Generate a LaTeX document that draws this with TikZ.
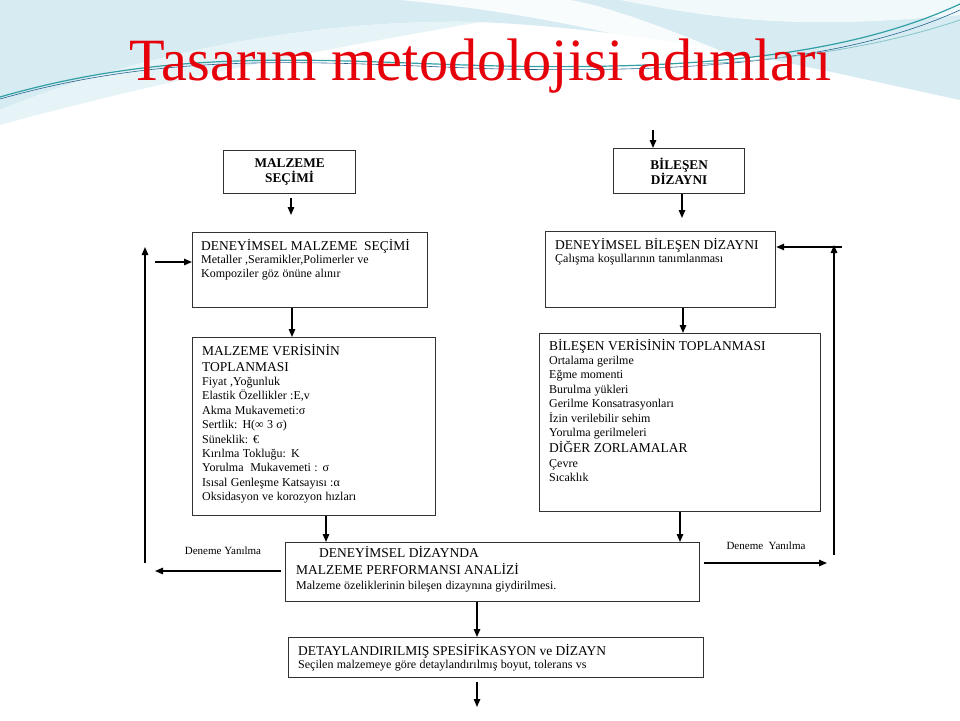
\documentclass[tikz,border=0pt]{standalone}
\usepackage{fontspec}
\usepackage{graphicx}
\setmainfont{Liberation Serif}
\usetikzlibrary{arrows.meta,calc}
\definecolor{boxc}{RGB}{50,50,50}
\definecolor{titlered}{RGB}{230,0,10}
\definecolor{bgA}{RGB}{214,235,242}
\definecolor{bgB}{RGB}{230,243,247}
\definecolor{tealc}{RGB}{50,160,165}
\definecolor{tealb}{RGB}{40,100,145}
\newcommand{\hd}{\fontsize{13.5}{16}\selectfont}
\newcommand{\sm}{\fontsize{12}{14.4}\selectfont}
\begin{document}
\begin{tikzpicture}[x=1pt,y=-1pt,
  box/.style={draw=boxc, line width=1.2pt, fill=white, inner sep=0pt, anchor=north west},
  arr/.style={line width=1.4pt, -{Triangle[length=8pt,width=6.5pt]}},
  txt/.style={anchor=base west, inner sep=0pt, align=left, text width=#1},
  lab/.style={inner sep=2pt, fill=white, font=\fontsize{11}{13}\selectfont}]
\useasboundingbox (0,0) rectangle (960,720);
\fill[white] (0,0) rectangle (960,720);
% background swooshes
\fill[bgA] (0,0) -- (960,0) -- (960,100) .. controls (820,70) and (660,30) .. (480,22)
  .. controls (300,18) and (120,60) .. (0,110) -- cycle;
\fill[bgB] (0,110) .. controls (120,60) and (300,18) .. (480,22)
  .. controls (380,40) and (200,70) .. (0,125) -- cycle;
\fill[white, opacity=0.85] (400,0) .. controls (560,15) and (690,50) .. (800,85)
  .. controls (710,45) and (620,8) .. (570,0) -- cycle;
\fill[white, opacity=0.7] (620,0) .. controls (720,20) and (800,30) .. (960,15) -- (960,0) -- cycle;
\draw[tealc, line width=1.2pt] (0,97) .. controls (180,45) and (330,62) .. (500,66)
  .. controls (700,70) and (850,55) .. (960,4);
\draw[tealb, line width=0.6pt] (0,99) .. controls (180,48) and (330,64) .. (500,69)
  .. controls (700,73) and (850,60) .. (960,10);
\draw[tealc!60, line width=0.8pt] (700,64) .. controls (820,58) and (900,40) .. (960,20);

% title
\node (title) [text=titlered, anchor=base, inner sep=0pt] at (481,80)
  {\fontsize{60}{60}\selectfont\scalebox{0.972}[1]{Tasarım metodolojisi adımları}};

% boxes
\node[box, minimum width=132pt, minimum height=43pt] (b1) at (223,150) {};
\node[box, minimum width=131pt, minimum height=45pt] (b2) at (613,148) {};
\node[box, minimum width=235pt, minimum height=75pt] (b3) at (192,232) {};
\node[box, minimum width=230pt, minimum height=76pt] (b4) at (545,231) {};
\node[box, minimum width=243pt, minimum height=178pt] (b5) at (192,337) {};
\node[box, minimum width=281pt, minimum height=178pt] (b6) at (539,333) {};
\node[box, minimum width=414pt, minimum height=59pt] (b7) at (285,542) {};
\node[box, minimum width=415pt, minimum height=40pt] (b8) at (288,637) {};

% box texts
\node[inner sep=0pt, align=center, font=\bfseries\fontsize{13.3}{15.5}\selectfont] (t1) at (b1.center) {MALZEME\\SEÇİMİ};
\node[inner sep=0pt, align=center, font=\bfseries\fontsize{13.3}{15.5}\selectfont] (t2) at (b2.center) {BİLEŞEN\\DİZAYNI};

\node[txt=230pt] (t3) at (201,250) {\hd DENEYİMSEL MALZEME\ \ SEÇİMİ\par
  \fontsize{12}{13.5}\selectfont Metaller ,Seramikler,Polimerler ve\par Kompoziler göz önüne alınır\par};
\node[txt=225pt] (t4) at (555,249) {\hd DENEYİMSEL BİLEŞEN DİZAYNI\par
  \fontsize{12}{13.5}\selectfont Çalışma koşullarının tanımlanması\par};
\node[txt=235pt] (t5) at (202,355) {\hd MALZEME VERİSİNİN\par TOPLANMASI\par
  \sm Fiyat ,Yoğunluk\par Elastik Özellikler :E,v\par Akma Mukavemeti:σ\par
  Sertlik: H(∞ 3 σ)\par Süneklik: €\par Kırılma Tokluğu: K\par
  Yorulma\ \ Mukavemeti : σ\par Isısal Genleşme Katsayısı :α\par Oksidasyon ve korozyon hızları\par};
\node[txt=270pt] (t6) at (549,350) {\hd BİLEŞEN VERİSİNİN TOPLANMASI\par
  \sm Ortalama gerilme\par Eğme momenti\par Burulma yükleri\par Gerilme Konsatrasyonları\par
  İzin verilebilir sehim\par Yorulma gerilmeleri\par
  \fontsize{13.5}{16.5}\selectfont DİĞER ZORLAMALAR\par
  \fontsize{12}{14.5}\selectfont Çevre\par Sıcaklık\par};
\node[txt=400pt] (t7) at (296,557) {\fontsize{13.5}{17}\selectfont \hspace*{23pt}DENEYİMSEL DİZAYNDA\par
  MALZEME PERFORMANSI ANALİZİ\par
  \fontsize{12}{15}\selectfont Malzeme özeliklerinin bileşen dizaynına giydirilmesi.\par};
\node[txt=400pt] (t8) at (298,655) {\hd DETAYLANDIRILMIŞ SPESİFİKASYON ve DİZAYN\par
  \fontsize{12}{13}\selectfont Seçilen malzemeye göre detaylandırılmış boyut, tolerans vs\par};

% labels
\node[lab] (d1) at (223,551) {Deneme Yanılma};
\node[lab] (d2) at (766,546) {Deneme\ \ Yanılma};

% connectors
\coordinate (top) at (653,130);
\draw[arr] (top) -- (top |- b2.north);
\coordinate (x1) at (291,0);
\draw[arr, shorten <=4pt, shorten >=17pt] (x1 |- b1.south) -- (x1 |- b3.north);
\coordinate (x2) at (682,0);
\draw[arr, shorten >=13pt] (x2 |- b2.south) -- (x2 |- b4.north);
\coordinate (x3) at (292,0);
\draw[arr] (x3 |- b3.south) -- (x3 |- b5.north);
\coordinate (x4) at (683,0);
\draw[arr] (x4 |- b4.south) -- (x4 |- b6.north);
\coordinate (x5) at (326,0);
\draw[arr] (x5 |- b5.south) -- (x5 |- b7.north);
\coordinate (x6) at (680,0);
\draw[arr] (x6 |- b6.south) -- (x6 |- b7.north);
\coordinate (x7) at (477,0);
\draw[arr] (x7 |- b7.south) -- (x7 |- b8.north);
\coordinate (out) at (477,707);
\draw[arr, shorten <=4pt] (out |- b8.south) -- (out);
% left loop
\coordinate (L1) at (155,571);
\draw[arr, shorten <=4pt] (b7.west |- L1) -- (L1);
\coordinate (L2) at (145,563);
\coordinate (L3) at (145,247);
\draw[arr] (L2) -- (L3);
\coordinate (L4) at (155,262);
\draw[arr] (L4) -- (L4 -| b3.west);
% right loop
\coordinate (R1) at (827,563);
\draw[arr, shorten <=4pt] (b7.east |- R1) -- (R1);
\coordinate (R2) at (834,555);
\coordinate (R3) at (834,245);
\draw[arr] (R2) -- (R3);
\coordinate (R4) at (842,247);
\draw[arr] (R4) -- (R4 -| b4.east);
\end{tikzpicture}
\end{document}
